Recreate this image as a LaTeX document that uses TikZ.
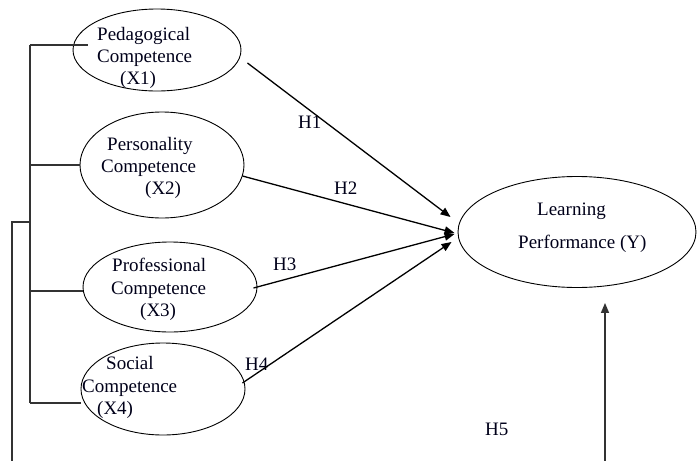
\documentclass[tikz,border=0pt]{standalone}
\usepackage{fontspec}
\setmainfont{Liberation Serif}
\usetikzlibrary{shapes.geometric,arrows.meta}
\begin{document}
\begin{tikzpicture}[x=1pt,y=-1pt,
  ell/.style={draw, ellipse, line width=0.9pt, inner sep=0pt},
  txt/.style={anchor=base west, inner sep=0pt, font=\fontsize{19}{22}\selectfont, text=black!90!blue},
  arr/.style={line width=1.3pt, -{Triangle[length=10pt,width=8pt]}},
  brk/.style={line width=1.1pt, draw=black!80}
]
\useasboundingbox (0,0) rectangle (697,461);
% ellipses
\node[ell, minimum width=168pt, minimum height=82pt] (x1) at (157,50) {};
\node[ell, minimum width=164pt, minimum height=106pt] (x2) at (162,165) {};
\node[ell, minimum width=174pt, minimum height=90pt] (x3) at (170,287) {};
\node[ell, minimum width=164pt, minimum height=92pt] (x4) at (163,389) {};
\node[ell, minimum width=238pt, minimum height=111pt] (ly) at (577,232) {};
% texts
\node[txt] (t1a) at (97,40) {Pedagogical};
\node[txt] (t1b) at (97,62) {Competence};
\node[txt] (t1c) at (120,84) {(X1)};
\node[txt] (t2a) at (107,150) {Personality};
\node[txt] (t2b) at (101,172) {Competence};
\node[txt] (t2c) at (145,194) {(X2)};
\node[txt] (t3a) at (112,271) {Professional};
\node[txt] (t3b) at (111,294) {Competence};
\node[txt] (t3c) at (140,316) {(X3)};
\node[txt] (t4a) at (106,369) {Social};
\node[txt] (t4b) at (82,392) {Competence};
\node[txt] (t4c) at (97,414) {(X4)};
\node[txt] (tya) at (537,215) {Learning};
\node[txt] (tyb) at (518,248) {Performance (Y)};
\node[txt] (h1) at (298,128) {H1};
\node[txt] (h2) at (334,194) {H2};
\node[txt] (h3) at (273,270) {H3};
\node[txt] (h4) at (245,370) {H4};
\node[txt] (h5) at (485,435) {H5};
% hypothesis arrows
\draw[arr] ([shift={(6,13)}]x1.east) -- ([shift={(-7,-15)}]ly.west);
\draw[arr] ([shift={(-2,11)}]x2.east) -- ([shift={(-3,1)}]ly.west);
\draw[arr] ([shift={(-4,1)}]x3.east) -- ([shift={(-3,2)}]ly.west);
\draw[arr] ([shift={(-3,-6)}]x4.east) -- ([shift={(-6,10)}]ly.west);
% bracket
\coordinate (b1) at (30,45);
\coordinate (b2) at (30,165);
\coordinate (b3) at (30,291);
\coordinate (b4) at (30,403);
\coordinate (bo) at (30,222);
\coordinate (ob) at (12,461);
\draw[brk] (b1) -- (b4);
\draw[brk] (b1) -- ([shift={(15,-5)}]x1.west);
\draw[brk] (b2) -- (x2.west);
\draw[brk] (b3) -- ([shift={(0,4)}]x3.west);
\draw[brk] (b4) -- ([shift={(0,14)}]x4.west);
\draw[brk] (ob) |- (bo);
% H5 arrow
\coordinate (h5s) at (605,461);
\draw[line width=1.5pt, draw=black!80, -{Triangle[length=10pt,width=8pt]}] (h5s) -- ([shift={(28,15)}]ly.south);
\end{tikzpicture}
\end{document}
